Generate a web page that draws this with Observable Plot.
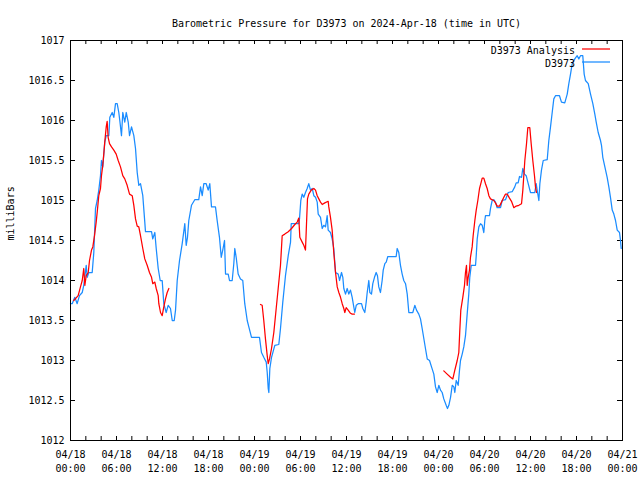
<!DOCTYPE html>
<html><head><meta charset="utf-8">
<script src="https://cdn.jsdelivr.net/npm/d3@7"></script>
<script src="https://cdn.jsdelivr.net/npm/@observablehq/plot@0.6"></script>
<style>html,body{margin:0;padding:0;background:#fff;}</style>
</head><body><div id="chart"></div>
<script>
const titleText = "Barometric Pressure for D3973 on 2024-Apr-18 (time in UTC)";
const yLabel = "milliBars";
const seriesNames = ["D3973 Analysis", "D3973"];
const seriesColors = ["#ff0000", "#1a8cff"];
const startUTC = Date.UTC(2024, 3, 18);
const xLabelHours = [0, 6, 12, 18, 24, 30, 36, 42, 48, 54, 60, 66, 72];
const xTickHours = [0,2,4,6,8,10,12,14,16,18,20,22,24,26,28,30,32,34,36,38,40,42,44,46,48,50,52,54,56,58,60,62,64,66,68,70,72];
const yTicks = [1012, 1012.5, 1013, 1013.5, 1014, 1014.5, 1015, 1015.5, 1016, 1016.5, 1017];

// D3973 station (hours after 04/18 00:00 UTC)
const stationHours = [0,0.22,0.56,0.87,1.17,1.53,1.73,2.05,2.18,2.39,2.83,3.04,3.26,3.48,3.69,3.91,4.04,4.21,4.47,4.66,5.00,5.13,5.44,5.65,5.87,6.09,6.30,6.43,6.65,6.82,7.08,7.27,7.53,7.70,7.96,8.26,8.48,8.70,8.91,9.13,9.43,9.69,9.78,10.57,10.73,11.00,11.18,11.44,11.70,11.96,12.17,12.48,12.74,13.04,13.27,13.53,13.70,13.92,14.22,14.57,14.91,15.09,15.26,15.43,15.78,16.21,16.73,16.96,17.18,17.39,17.70,17.96,18.17,18.39,18.91,19.13,19.43,19.66,19.86,20.09,20.22,20.57,20.74,21.09,21.30,21.43,21.61,21.87,22.17,22.47,22.73,23.05,23.26,23.61,24.65,24.91,25.21,25.53,25.66,25.79,25.87,26.00,26.22,26.65,27.17,27.39,27.69,28.04,28.40,28.70,28.79,29.78,29.87,30.04,30.22,30.43,30.65,30.87,31.08,31.30,31.53,31.74,31.96,32.18,32.31,32.61,32.83,33.04,33.26,33.48,33.61,33.91,34.13,34.34,34.57,34.92,35.09,35.35,35.52,35.65,35.87,36.09,36.30,36.52,36.74,36.95,37.08,37.27,37.53,37.96,38.13,38.39,38.57,38.70,38.91,39.04,39.26,39.43,39.65,39.87,40.04,40.21,40.43,40.65,40.79,41.00,41.18,41.39,42.48,42.61,42.82,43.04,43.26,43.47,43.70,43.92,44.13,44.65,44.91,45.13,45.43,45.65,45.87,46.30,46.53,46.83,47.09,47.39,47.61,47.83,48.04,48.26,48.48,48.69,49.00,49.17,49.35,49.57,49.79,50.00,50.13,50.31,50.57,50.74,50.87,51.09,51.30,51.52,51.74,51.95,52.08,52.27,52.83,52.92,53.05,53.26,53.48,53.70,53.91,54.04,54.13,54.65,54.78,55.00,55.21,55.43,55.65,56.09,56.30,56.74,57.09,57.61,57.95,58.13,58.39,58.57,58.83,59.00,59.22,59.44,59.70,60.00,60.56,60.74,60.87,61.09,61.22,61.43,61.66,62.18,62.39,62.61,62.83,63.04,63.26,63.78,64.04,64.47,64.79,65.00,65.22,65.44,65.78,66.09,66.30,66.52,66.82,67.00,67.17,67.53,67.83,68.13,68.39,68.57,68.83,69.13,69.26,69.43,69.70,70.00,70.22,70.43,70.66,70.87,71.09,71.31,71.61,71.74,71.83];
const stationValues = [1013.71,1013.71,1013.79,1013.71,1013.81,1013.85,1013.94,1014.19,1014.04,1014.10,1014.10,1014.35,1014.90,1015.00,1015.13,1015.31,1015.50,1015.42,1015.73,1015.81,1015.81,1016.04,1016.10,1016.04,1016.21,1016.21,1016.10,1016.00,1015.81,1016.10,1015.98,1016.10,1015.98,1015.81,1015.92,1015.81,1015.65,1015.35,1015.19,1015.21,1015.06,1014.73,1014.61,1014.61,1014.52,1014.60,1014.40,1014.15,1014.00,1014.00,1013.71,1013.60,1013.69,1013.65,1013.50,1013.50,1013.63,1014.00,1014.25,1014.46,1014.71,1014.44,1014.54,1014.75,1014.94,1015.01,1015.01,1015.17,1015.06,1015.21,1015.21,1015.13,1015.21,1014.92,1014.92,1014.75,1014.54,1014.29,1014.38,1014.50,1014.08,1014.08,1014.00,1014.00,1014.21,1014.40,1014.29,1014.08,1014.02,1014.00,1013.71,1013.50,1013.42,1013.29,1013.29,1013.10,1013.04,1012.98,1012.85,1012.65,1012.60,1012.90,1013.04,1013.19,1013.20,1013.40,1013.73,1014.06,1014.31,1014.48,1014.71,1014.71,1014.77,1015.00,1015.08,1015.04,1015.10,1015.15,1015.21,1015.13,1015.15,1015.06,1015.04,1014.98,1014.83,1014.79,1014.65,1014.69,1014.67,1014.81,1014.63,1014.60,1014.52,1014.40,1014.10,1014.08,1014.00,1014.10,1014.04,1013.90,1013.83,1013.90,1013.83,1013.88,1013.79,1013.67,1013.60,1013.69,1013.71,1013.71,1013.65,1013.60,1013.73,1013.85,1014.00,1013.85,1013.83,1013.96,1014.04,1014.10,1014.06,1013.92,1013.85,1014.00,1014.13,1014.21,1014.23,1014.30,1014.30,1014.40,1014.35,1014.19,1014.08,1014.00,1013.96,1013.83,1013.60,1013.60,1013.69,1013.63,1013.58,1013.52,1013.40,1013.15,1013.02,1013.00,1012.92,1012.83,1012.67,1012.60,1012.69,1012.63,1012.60,1012.52,1012.44,1012.40,1012.44,1012.54,1012.69,1012.67,1012.60,1012.75,1012.69,1012.88,1013.00,1013.08,1013.17,1013.31,1013.58,1013.83,1014.04,1014.19,1014.19,1014.31,1014.52,1014.67,1014.71,1014.69,1014.60,1014.75,1014.81,1014.81,1014.90,1015.00,1015.01,1014.98,1014.91,1014.91,1015.00,1015.01,1015.10,1015.11,1015.17,1015.22,1015.22,1015.30,1015.29,1015.40,1015.33,1015.31,1015.21,1015.10,1015.10,1015.21,1015.13,1015.00,1015.21,1015.38,1015.50,1015.51,1015.75,1015.92,1016.10,1016.27,1016.31,1016.31,1016.23,1016.22,1016.33,1016.46,1016.58,1016.71,1016.77,1016.81,1016.77,1016.81,1016.81,1016.58,1016.50,1016.46,1016.33,1016.21,1016.08,1015.98,1015.85,1015.75,1015.69,1015.54,1015.42,1015.29,1015.17,1015.04,1014.88,1014.83,1014.75,1014.63,1014.60,1014.50,1014.40];

// D3973 Analysis (null = gap between runs)
const analysisHours = [0.43,1.00,1.30,1.53,1.73,1.87,2.05,2.31,2.48,2.74,2.91,3.13,3.35,3.48,3.69,3.91,4.04,4.21,4.34,4.47,4.66,4.78,4.91,5.09,5.35,5.65,5.96,6.22,6.52,6.82,7.08,7.39,7.70,8.05,8.26,8.48,8.70,8.91,9.13,9.43,9.69,10.00,10.30,10.57,10.73,11.00,11.18,11.44,11.52,11.74,11.96,12.17,12.39,12.61,12.83,
  null,
  24.78,25.00,25.21,25.43,25.66,25.79,25.96,26.22,26.52,26.83,27.09,27.39,27.61,27.95,28.40,28.83,29.26,29.57,29.78,29.91,30.22,30.43,30.65,30.74,30.91,31.08,31.40,31.74,31.96,32.18,32.39,32.61,32.83,33.17,33.61,33.69,33.91,34.13,34.34,34.57,34.79,35.00,35.22,35.44,35.65,35.78,35.96,36.22,36.52,36.74,37.04,
  null,
  48.69,49.13,49.57,49.87,50.13,50.44,50.65,50.78,50.91,51.17,51.39,51.52,51.65,51.74,51.87,52.04,52.17,52.39,52.52,52.74,52.92,53.13,53.35,53.57,53.70,53.91,54.13,54.35,54.57,54.78,55.21,55.43,55.65,55.96,56.22,56.52,56.74,56.96,57.26,57.52,57.83,58.13,58.48,58.83,59.00,59.26,59.48,59.65,59.91,60.09,60.30,60.52,60.65,60.78];
const analysisValues = [1013.75,1013.81,1013.92,1014.00,1014.15,1013.94,1014.06,1014.10,1014.25,1014.38,1014.42,1014.56,1014.73,1014.85,1015.06,1015.15,1015.31,1015.44,1015.58,1015.73,1015.92,1015.99,1015.79,1015.71,1015.67,1015.63,1015.58,1015.50,1015.42,1015.31,1015.27,1015.19,1015.08,1015.06,1014.94,1014.77,1014.68,1014.67,1014.56,1014.40,1014.27,1014.19,1014.10,1014.04,1013.96,1013.98,1013.90,1013.81,1013.71,1013.60,1013.56,1013.67,1013.77,1013.85,1013.90,
  null,
  1013.70,1013.69,1013.50,1013.27,1013.06,1012.96,1013.02,1013.15,1013.35,1013.65,1013.90,1014.19,1014.56,1014.58,1014.61,1014.65,1014.70,1014.73,1014.78,1014.54,1014.48,1014.44,1014.38,1014.60,1015.02,1015.08,1015.13,1015.15,1015.13,1015.06,1015.02,1014.98,1014.95,1014.97,1014.99,1014.92,1014.79,1014.63,1014.35,1014.10,1013.92,1013.85,1013.79,1013.71,1013.65,1013.60,1013.66,1013.63,1013.59,1013.58,1013.58,
  null,
  1012.87,1012.83,1012.79,1012.77,1012.88,1013.00,1013.10,1013.38,1013.63,1013.79,1013.94,1014.10,1014.19,1013.94,1014.04,1014.13,1014.29,1014.42,1014.56,1014.75,1014.88,1015.00,1015.15,1015.23,1015.28,1015.28,1015.21,1015.15,1015.06,1015.02,1015.00,1014.97,1014.93,1014.93,1014.98,1015.04,1015.08,1015.08,1015.03,1014.99,1014.91,1014.93,1014.94,1014.96,1015.13,1015.50,1015.71,1015.91,1015.91,1015.71,1015.50,1015.31,1015.17,1015.10];

const toDate = h => h == null ? null : new Date(startUTC + h * 3600000);
const station = stationHours.map((h, i) => ({t: toDate(h), v: stationValues[i]}));
const analysis = analysisHours.map((h, i) => ({t: toDate(h), v: analysisValues[i]}));
const xLabelDates = xLabelHours.map(toDate);
const xTickDates = xTickHours.map(toDate);
const fmt = d3.utcFormat("%m/%d\n%H:%M");

const W = 640, H = 480, mL = 70, mR = 18, mT = 40, mB = 40;
const frameW = W - mL - mR, frameH = H - mT - mB;
const font = "'DejaVu Sans Mono', 'Liberation Mono', monospace";

const chart = Plot.plot({
  width: W, height: H,
  marginLeft: mL, marginRight: mR, marginTop: mT, marginBottom: mB,
  style: {fontFamily: font, fontSize: "10px", background: "#fff", color: "#000"},
  x: {type: "utc", domain: [toDate(0), toDate(72)]},
  y: {domain: [1012, 1017]},
  marks: [
    Plot.ruleX(xTickDates, {x: d => d, insetTop: frameH - 4, stroke: "#000"}),
    Plot.ruleX(xTickDates, {x: d => d, insetBottom: frameH - 4, stroke: "#000"}),
    Plot.ruleY(yTicks, {y: d => d, insetRight: frameW - 5, stroke: "#000"}),
    Plot.ruleY(yTicks, {y: d => d, insetLeft: frameW - 5, stroke: "#000"}),
    Plot.axisX({ticks: xLabelDates, tickSize: 0, tickPadding: 8, tickFormat: fmt, lineHeight: 1.4, label: null, fontSize: 10}),
    Plot.axisY({ticks: yTicks, tickSize: 0, tickPadding: 6, tickFormat: d => String(d), label: null, fontSize: 10}),
    Plot.line(station, {x: "t", y: "v", stroke: seriesColors[1], strokeWidth: 1.25}),
    Plot.line(analysis, {x: "t", y: "v", stroke: seriesColors[0], strokeWidth: 1.25}),
    Plot.text([titleText], {frameAnchor: "top", dy: -21, fontSize: 10, fill: "#000"}),
    Plot.text([yLabel], {frameAnchor: "left", rotate: -90, dx: -60, fontSize: 10, fill: "#000"}),
    Plot.frame({stroke: "#000"})
  ]
});

// legend (top-right, inside frame)
const svg = d3.select(chart);
const lg = svg.append("g").attr("font-family", font).attr("font-size", 10);
seriesNames.forEach((name, i) => {
  const y = mT + 10 + i * 13;
  lg.append("text").attr("x", W - mR - 47).attr("y", y).attr("dy", "0.35em")
    .attr("text-anchor", "end").attr("fill", "#000").text(name);
  lg.append("line").attr("x1", W - mR - 40).attr("x2", W - mR - 12)
    .attr("y1", y - 1).attr("y2", y - 1).attr("stroke", seriesColors[i]).attr("stroke-width", 1.25);
});
document.getElementById("chart").appendChild(chart);
</script>
</body></html>
